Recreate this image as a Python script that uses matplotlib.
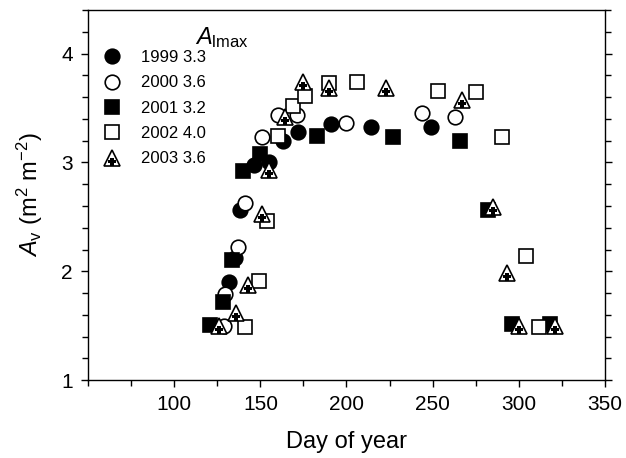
import numpy as np
import matplotlib
matplotlib.use("Agg")
import matplotlib.pyplot as plt
from matplotlib.path import Path
from matplotlib.legend_handler import HandlerTuple

plt.rcParams['font.family'] = ['Liberation Sans', 'DejaVu Sans']
plt.rcParams['mathtext.fontset'] = 'custom'
plt.rcParams['mathtext.rm'] = 'Liberation Sans'
plt.rcParams['mathtext.it'] = 'Liberation Sans:italic'

# data (day of year, A_v)
day_1999 = [132, 135, 138, 146, 155, 163, 172, 191, 214, 249]
av_1999 = [1.90, 2.12, 2.56, 2.98, 3.00, 3.20, 3.28, 3.35, 3.33, 3.33]

day_2000 = [129, 129.5, 137, 141, 151, 160, 171, 200, 244, 263]
av_2000 = [1.50, 1.79, 2.22, 2.63, 3.23, 3.44, 3.44, 3.36, 3.45, 3.42]

day_2001 = [121, 128, 133.5, 140, 150, 183, 227, 266, 282, 296, 318.5]
av_2001 = [1.51, 1.72, 2.10, 2.92, 3.08, 3.24, 3.23, 3.20, 2.56, 1.52, 1.52]

day_2002 = [141, 149, 154, 160, 169, 176, 190, 206, 253, 275, 290.5, 304, 312]
av_2002 = [1.49, 1.91, 2.46, 3.24, 3.52, 3.61, 3.73, 3.74, 3.66, 3.65, 3.23, 2.14, 1.49]

day_2003 = [126, 136, 143, 151, 155, 164, 175, 190, 223, 267, 285, 293, 300, 321]
av_2003 = [1.50, 1.62, 1.87, 2.53, 2.93, 3.42, 3.74, 3.68, 3.68, 3.57, 2.59, 1.98, 1.50, 1.50]

labels = ['1999 3.3', '2000 3.6', '2001 3.2', '2002 4.0', '2003 3.6']

# plus sign sitting in the lower part of the triangle marker
# (lone MOVETOs at (0,1) and (0,-1) keep the same scaling as the '^' marker)
cy, a, w = -0.45, 0.5, 0.19
plus_verts = [(0, 1), (0, -1),
              (-w, cy + a), (w, cy + a), (w, cy + w), (a, cy + w), (a, cy - w),
              (w, cy - w), (w, cy - a), (-w, cy - a), (-w, cy - w), (-a, cy - w),
              (-a, cy + w), (-w, cy + w), (-w, cy + a)]
plus_codes = [Path.MOVETO, Path.MOVETO, Path.MOVETO] + [Path.LINETO] * 11 + [Path.CLOSEPOLY]
plus_marker = Path(plus_verts, plus_codes)

fig = plt.figure(figsize=(6.26, 4.58), dpi=100)
ax = fig.add_axes([0.141, 0.170, 0.825, 0.808])

ms = 10.5
mew = 1.2
h1, = ax.plot(day_1999, av_1999, 'o', ms=ms, mfc='black', mec='black', mew=mew, ls='none')
h2, = ax.plot(day_2000, av_2000, 'o', ms=ms, mfc='white', mec='black', mew=mew, ls='none')
h3, = ax.plot(day_2001, av_2001, 's', ms=ms - 1, mfc='black', mec='black', mew=mew, ls='none')
h4, = ax.plot(day_2002, av_2002, 's', ms=ms - 1, mfc='white', mec='black', mew=mew, ls='none')
h5a, = ax.plot(day_2003, av_2003, '^', ms=ms + 1, mfc='white', mec='black', mew=mew, ls='none')
h5b, = ax.plot(day_2003, av_2003, marker=plus_marker, ms=ms + 1, mfc='black', mec='black',
               mew=0, ls='none')

ax.set_xlim(50, 350)
ax.set_ylim(1, 4.4)
ax.set_xticks([100, 150, 200, 250, 300, 350])
ax.set_xticks(np.arange(50, 351, 25), minor=True)
ax.set_yticks([1, 2, 3, 4])
ax.set_yticks(np.arange(1, 4.41, 0.2), minor=True)
ax.tick_params(which='both', direction='out', labelsize=15, right=True, top=False,
               width=1)
ax.tick_params(which='major', length=5, pad=6)
ax.tick_params(which='minor', length=4)
for s in ax.spines.values():
    s.set_linewidth(1)

ax.set_xlabel('Day of year', fontsize=17, labelpad=12)
ax.set_ylabel('$A_{\\rm v}$ (m$^2$ m$^{-2}$)', fontsize=17, labelpad=12)

leg = ax.legend([h1, h2, h3, h4, (h5a, h5b)], labels,
                handler_map={tuple: HandlerTuple(ndivide=1, pad=0)},
                loc='upper left', bbox_to_anchor=(0.012, 0.91), frameon=False,
                fontsize=12, handlelength=1.3, handletextpad=1.1, labelspacing=0.62,
                borderaxespad=0)
ax.text(0.207, 0.925, '$A_{\\rm lmax}$', transform=ax.transAxes, fontsize=17,
        ha='left', va='center')

fig.savefig('out.png', dpi=100)
